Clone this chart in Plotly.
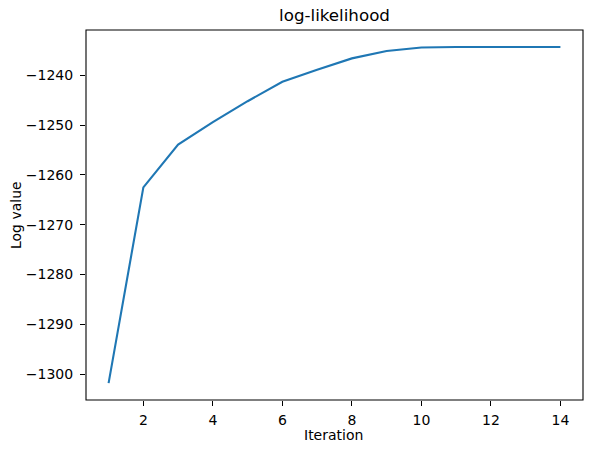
import plotly.graph_objects as go

iterations = list(range(1, 15))
log_values = [-1301.8, -1262.5, -1253.9, -1249.4, -1245.2, -1241.3, -1238.9,
              -1236.6, -1235.1, -1234.4, -1234.3, -1234.3, -1234.3, -1234.3]

font = "DejaVu Sans"
W, H = 592, 453
L, R, T, B = 86, 9, 30, 53
pw, ph = W - L - R, H - T - B

fig = go.Figure(go.Scatter(x=iterations, y=log_values, mode="lines",
                           line=dict(color="#1f77b4", width=2.1)))

axis_style = dict(showline=False, ticks="outside", ticklen=5, tickwidth=1.1,
                  tickcolor="black", showgrid=False, zeroline=False,
                  tickfont=dict(family=font, size=14, color="black"))

# black frame round the plot area, like matplotlib's spines
fig.add_shape(type="rect", xref="paper", yref="paper", x0=0, y0=0, x1=1, y1=1,
              line=dict(color="black", width=1.1))

# axis titles as annotations so they sit exactly where matplotlib puts them
fig.add_annotation(text="Iteration", xref="paper", yref="paper",
                   x=(333 - L) / pw, y=-(435 - (H - B)) / ph,
                   xanchor="center", yanchor="middle", showarrow=False,
                   font=dict(family=font, size=14, color="black"))
fig.add_annotation(text="Log value", xref="paper", yref="paper",
                   x=(16 - L) / pw, y=0.5, textangle=-90,
                   xanchor="center", yanchor="middle", showarrow=False,
                   font=dict(family=font, size=14, color="black"))

fig.update_layout(
    width=W, height=H,
    margin=dict(l=L, r=R, t=T, b=B),
    paper_bgcolor="white", plot_bgcolor="white",
    showlegend=False,
    title=dict(text="log-likelihood", x=(L + W - R) / 2 / W, xanchor="center",
               y=1 - 15 / H, yanchor="middle",
               font=dict(family=font, size=16.7, color="black")),
    xaxis=dict(axis_style, range=[0.35, 14.65], dtick=2, tick0=0,
               ticklabelstandoff=2),
    yaxis=dict(axis_style, range=[-1305.2, -1230.9], dtick=10, tick0=-1300,
               ticklabelstandoff=4),
)

# drop the browser's default 8px body margin so the figure sits at 0,0
fig.write_html("out.html", config={"displayModeBar": False},
               post_script="document.body.style.margin='0';")
